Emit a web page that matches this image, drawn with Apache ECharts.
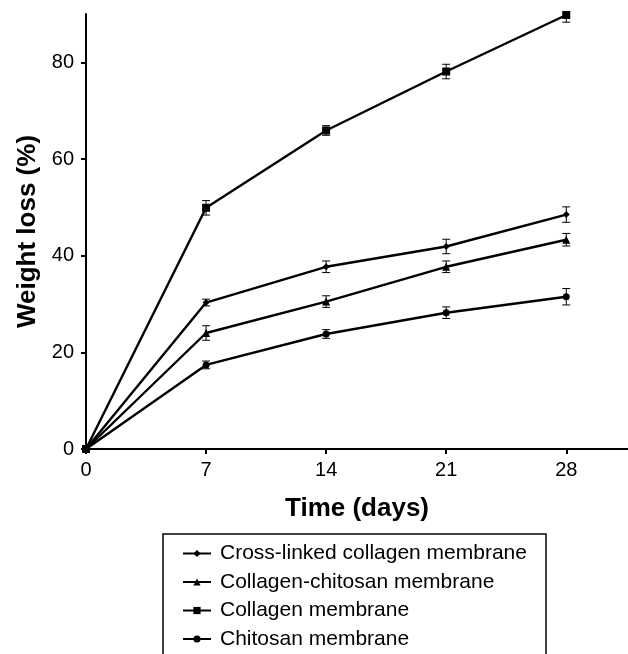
<!DOCTYPE html>
<html>
<head>
<meta charset="utf-8">
<script src="https://cdn.jsdelivr.net/npm/echarts@6/dist/echarts.min.js"></script>
<style>
html,body{margin:0;padding:0;background:#fff;}
#chart{width:628px;height:654px;}
</style>
</head>
<body>
<div id="chart"></div>
<script>
// ---- data ----
const days = [0, 7, 14, 21, 28];
const seriesNames = [
  'Cross-linked collagen membrane',
  'Collagen-chitosan membrane',
  'Collagen membrane',
  'Chitosan membrane'
];
const crossLinked = [0, 30.3, 37.7, 41.9, 48.5];
const crossLinkedErr = [0, 0.7, 1.2, 1.5, 1.6];
const collagenChitosan = [0, 24.0, 30.5, 37.7, 43.3];
const collagenChitosanErr = [0, 1.5, 1.2, 1.2, 1.3];
const collagen = [0, 49.9, 65.9, 78.1, 89.8];
const collagenErr = [0, 1.5, 1.0, 1.5, 1.5];
const chitosan = [0, 17.4, 23.8, 28.2, 31.5];
const chitosanErr = [0, 0.8, 0.9, 1.2, 1.7];
const xTicks = [0, 7, 14, 21, 28];
const yTicks = [0, 20, 40, 60, 80];

const values = [crossLinked, collagenChitosan, collagen, chitosan];
const errors = [crossLinkedErr, collagenChitosanErr, collagenErr, chitosanErr];
const symbols = ['diamond', 'triangle', 'rect', 'circle'];
const symbolSizes = [7, 8, 8, 7];

const font = 'Liberation Sans, Arial, sans-serif';
const chart = echarts.init(document.getElementById('chart'), null, {renderer: 'canvas'});

const series = [];
values.forEach((vals, i) => {
  series.push({
    name: seriesNames[i],
    type: 'line',
    data: days.map((d, j) => [d, vals[j]]),
    symbol: symbols[i],
    symbolSize: symbolSizes[i],
    lineStyle: {color: '#000', width: 2.4},
    itemStyle: {color: '#000'},
    showAllSymbol: true,
    clip: false,
    animation: false,
    z: 3
  });
  series.push({
    type: 'custom',
    name: seriesNames[i] + ' err',
    data: days.map((d, j) => [d, vals[j] - errors[i][j], vals[j] + errors[i][j]]),
    renderItem: function (params, api) {
      const x = api.value(0);
      const lo = api.coord([x, api.value(1)]);
      const hi = api.coord([x, api.value(2)]);
      const w = 4;
      const st = {stroke: '#000', lineWidth: 1};
      return {
        type: 'group',
        children: [
          {type: 'line', shape: {x1: lo[0], y1: lo[1], x2: hi[0], y2: hi[1]}, style: st},
          {type: 'line', shape: {x1: lo[0] - w, y1: lo[1], x2: lo[0] + w, y2: lo[1]}, style: st},
          {type: 'line', shape: {x1: hi[0] - w, y1: hi[1], x2: hi[0] + w, y2: hi[1]}, style: st}
        ]
      };
    },
    clip: true,
    animation: false,
    z: 2
  });
});

chart.setOption({
  animation: false,
  backgroundColor: '#fff',
  grid: {left: 86, right: 0, top: 14, bottom: 205, containLabel: false},
  xAxis: {
    type: 'value',
    min: 0,
    max: 31.6,
    interval: 7,
    name: 'Time (days)',
    nameLocation: 'middle',
    nameGap: 47,
    nameTextStyle: {fontFamily: font, fontWeight: 'bold', fontSize: 26, color: '#000'},
    axisLine: {lineStyle: {color: '#000', width: 2}},
    axisTick: {show: true, length: 5, lineStyle: {color: '#000', width: 2}, customValues: xTicks},
    axisLabel: {fontFamily: font, fontSize: 20, color: '#000', margin: 11, customValues: xTicks},
    splitLine: {show: false}
  },
  yAxis: {
    type: 'value',
    min: 0,
    max: 90,
    interval: 20,
    name: 'Weight loss (%)',
    nameLocation: 'middle',
    nameGap: 44,
    nameRotate: 90,
    nameTextStyle: {fontFamily: font, fontWeight: 'bold', fontSize: 26, color: '#000'},
    axisLine: {lineStyle: {color: '#000', width: 2}},
    axisTick: {show: true, length: 5, lineStyle: {color: '#000', width: 2}, customValues: yTicks},
    axisLabel: {fontFamily: font, fontSize: 20, color: '#000', margin: 12, customValues: yTicks},
    splitLine: {show: false}
  },
  legend: {
    data: seriesNames,
    orient: 'vertical',
    left: 177,
    top: 538,
    height: 160,
    width: 400,
    itemGap: 7.5,
    itemWidth: 28,
    itemHeight: 9,
    textStyle: {fontFamily: font, fontSize: 21, color: '#000', padding: [0, 0, 0, 4]},
    selectedMode: false
  },
  graphic: [{
    type: 'rect',
    shape: {x: 163, y: 534, width: 383, height: 200},
    style: {fill: 'none', stroke: '#000', lineWidth: 1.5},
    silent: true,
    z: -1
  }],
  series: series
});
</script>
</body>
</html>
